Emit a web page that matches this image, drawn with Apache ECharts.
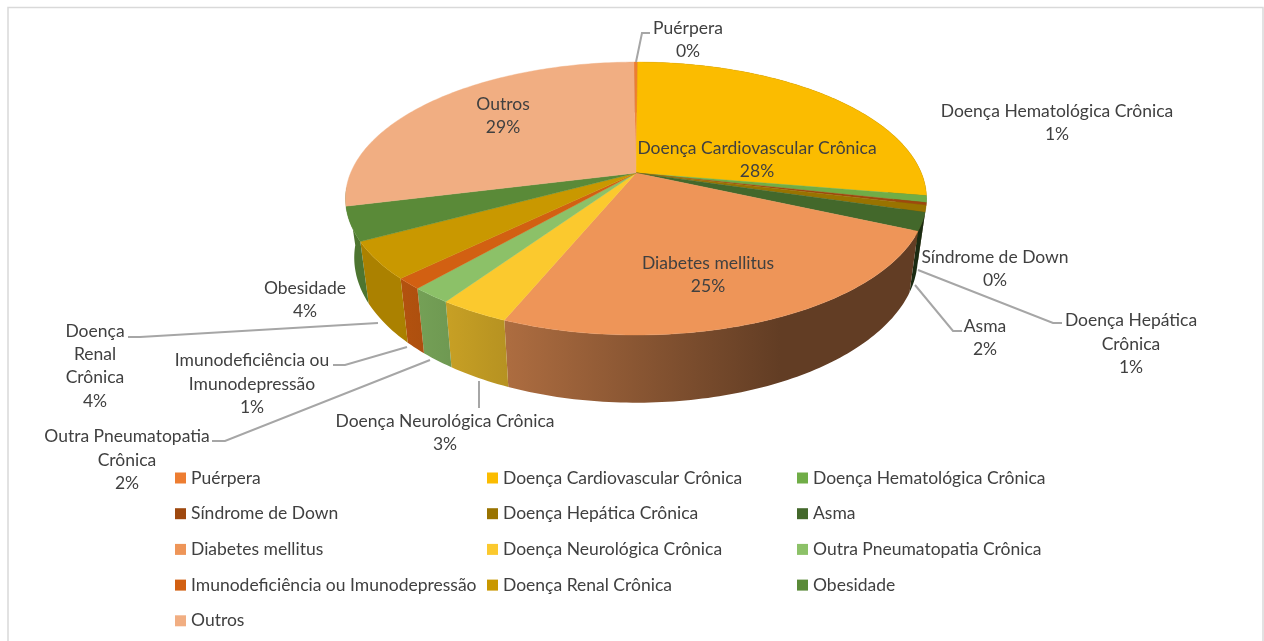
<!DOCTYPE html>
<html>
<head>
<meta charset="utf-8">
<style>html,body{margin:0;padding:0;background:#fff}#chart{width:1264px;height:641px}</style>
<script src="https://cdn.jsdelivr.net/npm/echarts@6/dist/echarts.min.js"></script>
</head>
<body>
<div id="chart"></div>
<script>
const categories = ['Puérpera', 'Doença Cardiovascular Crônica', 'Doença Hematológica Crônica', 'Síndrome de Down',
  'Doença Hepática Crônica', 'Asma', 'Diabetes mellitus', 'Doença Neurológica Crônica', 'Outra Pneumatopatia Crônica',
  'Imunodeficiência ou Imunodepressão', 'Doença Renal Crônica', 'Obesidade', 'Outros']
const values = [0.25, 27.55, 0.8, 0.3, 0.8, 2.15, 24.52, 3.3, 1.9, 1.3, 4.4, 4, 28.73]
const colors = ['#ED7D31', '#FBBC00', '#70AD47', '#9E480E', '#997300', '#43682B', '#EE9558', '#FBC92E', '#8CC168',
  '#D26012', '#C99800', '#5A8A38', '#F1AE82']
// rotulos com quebra de linha como no original
const labelNames = ['Puérpera', 'Doença Cardiovascular Crônica', 'Doença Hematológica Crônica', 'Síndrome de Down',
  'Doença Hepática\nCrônica', 'Asma', 'Diabetes mellitus', 'Doença Neurológica Crônica', 'Outra Pneumatopatia\nCrônica',
  'Imunodeficiência ou\nImunodepressão', 'Doença\nRenal\nCrônica', 'Obesidade', 'Outros']
const labelCenters = [[688, 40], [757, 160], [1057, 123], [995, 269], [1131, 344], [985, 338], [708, 275], [445, 433],
  [127, 460], [252, 384], [95, 366], [305, 300], [503, 116]]
const leaders = [
  [[636, 62], [642, 33], [650, 33]],
  [[918, 270], [1053, 323], [1062, 323]],
  [[915, 285], [953, 331], [962, 331]],
  [[479, 381], [479, 408]],
  [[430, 360], [225, 441], [212, 441]],
  [[407, 347], [345, 365], [333, 365]],
  [[378, 323], [140, 337], [128, 337]]
]
const legendColumns = [
  { left: 175, items: [0, 3, 6, 9, 12] },
  { left: 487, items: [1, 4, 7, 10] },
  { left: 797, items: [2, 5, 8, 11] }
]

// geometria da pizza em perspectiva
const cx = 636, topY = 173, bottomY = 230.5
const radiusX = 285.4, radiusY = 131.7, persp = 0.187, startDeg = -0.5
const bottomRadiusX = 276.8, bottomRadiusY = 140
const total = values.reduce((a, b) => a + b, 0)
// a parede da fatia de tras nao aparece, a de Obesidade vai ate a silhueta
const hiddenWall = 12, wallExtra = { 11: 8 }

function project(deg, rx, ry, cy) {
  const t = deg * Math.PI / 180
  const u = Math.sin(t), v = -Math.cos(t)
  const s = 1 / (1 - persp * v)
  return [cx + rx * u * s, cy + ry * v * s]
}
function shade(hex, f) {
  const n = parseInt(hex.slice(1), 16)
  return 'rgb(' + [(n >> 16) & 255, (n >> 8) & 255, n & 255].map(c => Math.round(c * f)).join(',') + ')'
}
function wallFill(hex) {
  return new echarts.graphic.LinearGradient(400, 0, 780, 0, [
    { offset: 0, color: shade(hex, 0.85) },
    { offset: 1, color: shade(hex, 0.41) }
  ], true)
}
function arc(a0, a1, rx, ry, cy) {
  const n = Math.max(2, Math.ceil(a1 - a0))
  const pts = []
  for (let i = 0; i <= n; i++) pts.push(project(a0 + (a1 - a0) * i / n, rx, ry, cy))
  return pts
}
function sliceItem(idx) {
  return function (params, api) {
    let before = 0
    for (let i = 0; i < idx; i++) before += values[i]
    const a0 = startDeg + before / total * 360
    const a1 = a0 + api.value(0) / total * 360
    const wallEnd = a1 + (wallExtra[idx] || 0)
    const children = [{
      type: 'polygon',
      z2: 100 + idx,
      shape: { points: [[cx, topY]].concat(arc(a0, a1, radiusX, radiusY, topY)) },
      style: { fill: colors[idx], stroke: colors[idx], lineWidth: 0.4 }
    }]
    if (idx !== hiddenWall) {
      children.push({
        type: 'polygon',
        z2: 1 + idx,
        shape: {
          points: arc(a0, wallEnd, radiusX, radiusY, topY)
            .concat(arc(a0, wallEnd, bottomRadiusX, bottomRadiusY, bottomY).reverse())
        },
        style: { fill: wallFill(colors[idx]) }
      })
    }
    return { type: 'group', children: children }
  }
}

const labelFont = { fontFamily: 'Lato', fontSize: 17.5 }
const graphic = [
  { type: 'rect', z: 0, silent: true, shape: { x: 8, y: 7.5, width: 1255, height: 650 }, style: { fill: '#fff', stroke: '#D9D9D9', lineWidth: 1.5 } }
]
leaders.forEach(function (pts) {
  graphic.push({ type: 'polyline', z: 5, silent: true, shape: { points: pts }, style: { stroke: '#A6A6A6', lineWidth: 2, fill: null } })
})
categories.forEach(function (c, i) {
  graphic.push({
    type: 'text', z: 10, silent: true, x: labelCenters[i][0], y: labelCenters[i][1],
    style: Object.assign({
      text: labelNames[i] + '\n' + Math.round(values[i] / total * 100) + '%',
      fill: '#404040', align: 'center', verticalAlign: 'middle', lineHeight: 23.3
    }, labelFont)
  })
})

const chart = echarts.init(document.getElementById('chart'))
chart.setOption({
  animation: false,
  color: colors,
  graphic: graphic,
  legend: legendColumns.map(function (col) {
    return {
      orient: 'vertical', left: col.left, top: 469, padding: 0, itemWidth: 11, itemHeight: 11, itemGap: 17.7,
      selectedMode: false, icon: 'rect', itemStyle: { borderWidth: 0 },
      textStyle: { color: '#404040', fontFamily: 'Lato', fontSize: 17.5, padding: 0, lineHeight: 17 },
      data: col.items.map(i => categories[i])
    }
  }),
  series: categories.map(function (name, i) {
    return {
      type: 'custom', name: name, coordinateSystem: 'none', silent: true, z: 3,
      itemStyle: { color: colors[i] },
      renderItem: sliceItem(i),
      data: [[values[i]]]
    }
  })
})
</script>
</body>
</html>
